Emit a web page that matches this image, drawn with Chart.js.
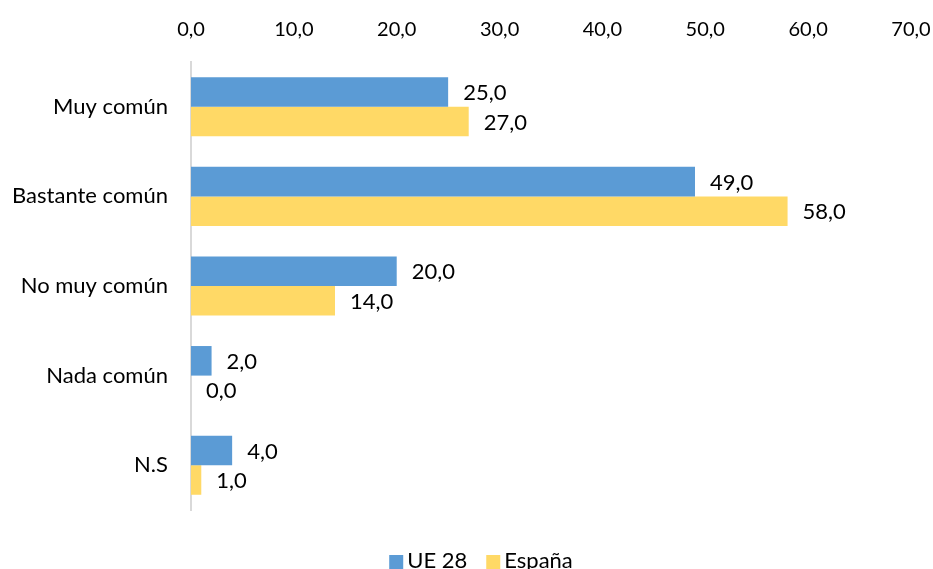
<!DOCTYPE html>
<html><head><meta charset="utf-8">
<script src="https://cdn.jsdelivr.net/npm/chart.js@4/dist/chart.umd.min.js"></script>
<style>html,body{margin:0;padding:0;background:#fff;}canvas{display:block;}</style>
</head><body>
<canvas id="c" width="933" height="569"></canvas>
<script>
const categories = ["Muy común", "Bastante común", "No muy común", "Nada común", "N.S"];
const ue28 = [25, 49, 20, 2, 4];
const espana = [27, 58, 14, 0, 1];
const seriesNames = ["UE 28", "España"];

const FONT = "Lato, 'Open Sans', sans-serif";
const FS = 22;
const fmt = v => v.toFixed(1).replace('.', ',');

const labelPlugin = {
  id: 'barLabels',
  afterDatasetsDraw(chart) {
    const ctx = chart.ctx;
    ctx.save();
    ctx.font = FS + "px " + FONT;
    ctx.fillStyle = "#000";
    ctx.textBaseline = "middle";
    ctx.textAlign = "left";
    chart.data.datasets.forEach((ds, i) => {
      chart.getDatasetMeta(i).data.forEach((bar, j) => {
        ctx.fillText(fmt(ds.data[j]), bar.x + 15, bar.y + 1);
      });
    });
    ctx.restore();
  }
};

const legendPlugin = {
  id: 'customLegend',
  afterDraw(chart) {
    const ctx = chart.ctx;
    ctx.save();
    ctx.font = FS + "px " + FONT;
    ctx.textBaseline = "middle";
    ctx.textAlign = "left";
    const box = 14, gap = 4, itemGap = 19;
    const items = chart.data.datasets.map(ds => ({ text: ds.label, color: ds.backgroundColor, w: ctx.measureText(ds.label).width }));
    const total = items.reduce((s, it) => s + box + gap + it.w, 0) + itemGap * (items.length - 1);
    let x = 481 - total / 2;
    const yc = 561;
    items.forEach(it => {
      ctx.fillStyle = it.color;
      ctx.fillRect(x, yc - 6, box, box);
      x += box + gap;
      ctx.fillStyle = '#000';
      ctx.fillText(it.text, x, yc);
      x += it.w + itemGap;
    });
    ctx.restore();
  }
};

new Chart(document.getElementById('c'), {
  type: 'bar',
  data: {
    labels: categories,
    datasets: [
      { label: seriesNames[0], data: ue28, backgroundColor: '#5b9bd5', categoryPercentage: 0.66, barPercentage: 1.0 },
      { label: seriesNames[1], data: espana, backgroundColor: '#ffd966', categoryPercentage: 0.66, barPercentage: 1.0 }
    ]
  },
  options: {
    indexAxis: 'y',
    responsive: false,
    animation: false,
    layout: { padding: { left: 0, right: 0, top: 0, bottom: 59 } },
    scales: {
      x: {
        position: 'top',
        min: 0, max: 70,
        ticks: { stepSize: 10, font: { size: 20, family: FONT }, color: '#000', padding: 12,
                 callback: v => fmt(v) },
        grid: { display: false },
        border: { display: false },
        afterFit: s => { s.height = 62; s.paddingRight = 22; s.paddingLeft = 0; }
      },
      y: {
        ticks: { font: { size: FS, family: FONT }, color: '#000', padding: 15 },
        grid: { display: false },
        border: { display: true, color: '#d9d9d9', width: 2 },
        afterFit: s => { s.width = 191; }
      }
    },
    plugins: {
      legend: { display: false },
      tooltip: { enabled: false }
    }
  },
  plugins: [labelPlugin, legendPlugin]
});
</script>
</body></html>
